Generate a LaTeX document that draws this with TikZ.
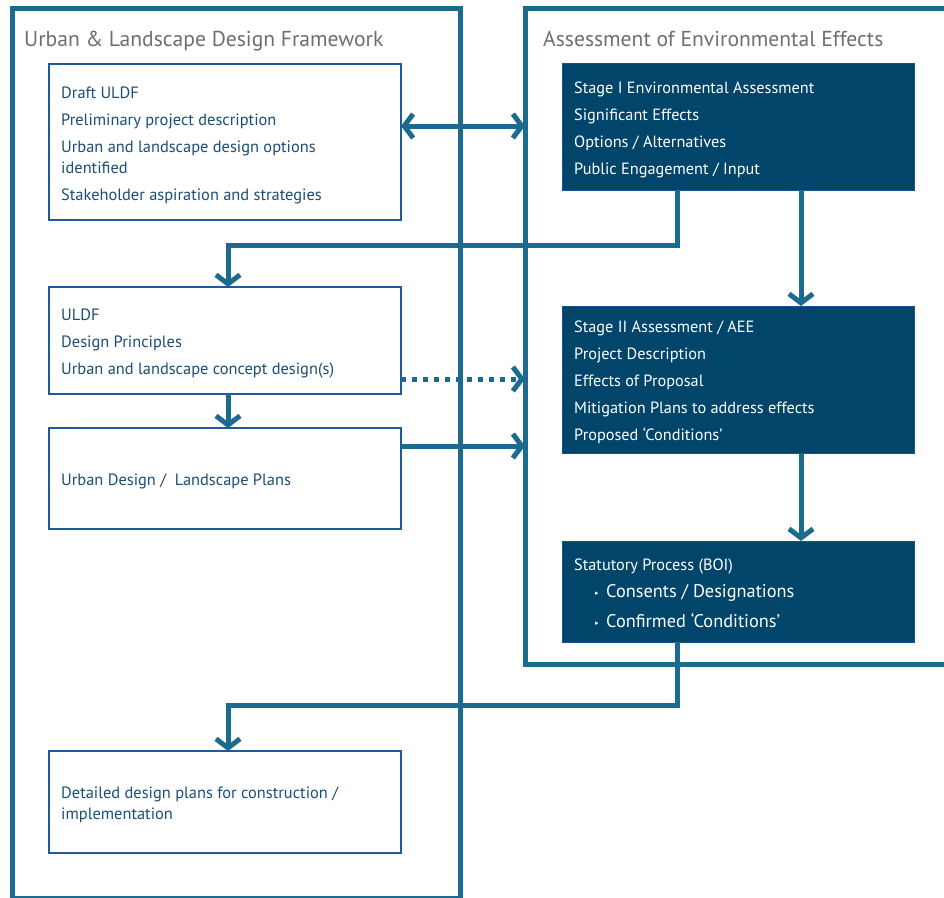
\documentclass[tikz,border=0pt]{standalone}
\usepackage{fontspec}
\setmainfont{PT Sans}
\newfontfamily\djv{DejaVu Sans}
\usetikzlibrary{arrows.meta,calc}
\definecolor{frameC}{RGB}{27,106,143}
\definecolor{darkC}{RGB}{1,69,107}
\definecolor{boxC}{RGB}{31,90,153}
\definecolor{txtC}{RGB}{27,78,120}
\definecolor{titleC}{RGB}{110,110,110}
\tikzset{
  frame/.style={draw=frameC,line width=5pt,rectangle,inner sep=0pt,outer sep=0pt},
  lbox/.style={draw=boxC,line width=1.3pt,fill=white,rectangle,minimum width=352pt,inner sep=0pt,outer sep=0pt},
  dbox/.style={draw=boxC!70!darkC,line width=1pt,fill=darkC,rectangle,minimum width=352pt,inner sep=0pt,outer sep=0pt},
  lt/.style={anchor=base west,inner sep=0pt,text=txtC,font=\fontsize{16.4}{18}\selectfont},
  dt/.style={anchor=base west,inner sep=0pt,text=white,font=\fontsize{16.3}{18}\selectfont},
  dtb/.style={anchor=base west,inner sep=0pt,text=white,font=\fontsize{18.3}{20}\selectfont},
  bul/.style={anchor=base west,inner sep=0pt,text=white,font=\djv\fontsize{7}{8}\selectfont},
  ttl/.style={anchor=base west,inner sep=0pt,text=titleC,font=\fontsize{21.6}{24}\selectfont},
  conn/.style={draw=frameC,line width=5pt,-{Straight Barb[length=9pt,width=24pt]}},
}
\begin{document}
\begin{tikzpicture}[x=1pt,y=-1pt]
\useasboundingbox (0,0) rectangle (944,897);
\clip (0,0) rectangle (944,897);
% boxes
\node[lbox,minimum height=156pt] (b1) at (225,142) {};
\node[lbox,minimum height=107pt] (b2) at (225,340.5) {};
\node[lbox,minimum height=101pt] (b3) at (225,478.5) {};
\node[lbox,minimum height=102pt] (b4) at (225,802) {};
\node[dbox,minimum height=127pt] (d1) at (738,126.5) {};
\node[dbox,minimum height=147pt] (d2) at (738,379.5) {};
\node[dbox,minimum height=101pt] (d3) at (738,591.5) {};
% frames
\node[frame,minimum width=448pt,minimum height=890pt] (fL) at (236,453) {};
\node[frame,minimum width=440pt,minimum height=656pt] (fR) at (745,336) {};
% titles
\node[ttl] (t1) at (24,46) {Urban \& Landscape Design Framework};
\node[ttl] (t2) at (543,46) {Assessment of Environmental Effects};
% box texts
\node[lt] (b1a) at (61,98) {Draft ULDF};
\node[lt] (b1b) at (61,125) {Preliminary project description};
\node[lt] (b1c) at (61,152) {Urban and landscape design options};
\node[lt] (b1d) at (61,173) {identified};
\node[lt] (b1e) at (61,200) {Stakeholder aspiration and strategies};
\node[lt] (b2a) at (61,320) {ULDF};
\node[lt] (b2b) at (61,347) {Design Principles};
\node[lt] (b2c) at (61,374) {Urban and landscape concept design(s)};
\node[lt] (b3a) at (61,485) {Urban Design /\ \ Landscape Plans};
\node[lt] (b4a) at (61,798) {Detailed design plans for construction /};
\node[lt] (b4b) at (61,819) {implementation};
\node[dt] (d1a) at (574,93) {Stage I Environmental Assessment};
\node[dt] (d1b) at (574,120) {Significant Effects};
\node[dt] (d1c) at (574,147) {Options / Alternatives};
\node[dt] (d1d) at (574,174) {Public Engagement / Input};
\node[dt] (d2a) at (574,332) {Stage II Assessment / AEE};
\node[dt] (d2b) at (574,359) {Project Description};
\node[dt] (d2c) at (574,386) {Effects of Proposal};
\node[dt] (d2d) at (574,413) {Mitigation Plans to address effects};
\node[dt] (d2e) at (574,440) {Proposed ‘Conditions’};
\node[dt] (d3a) at (574,570) {Statutory Process (BOI)};
\node[bul] (d3b1) at (595,595) {▸};
\node[dtb] (d3b) at (606,597) {Consents / Designations};
\node[bul] (d3c1) at (595,625) {▸};
\node[dtb] (d3c) at (606,627) {Confirmed ‘Conditions’};
% coordinates
\coordinate (xA) at (677,0);
\coordinate (xB) at (801,0);
\coordinate (xC) at (228,0);
\coordinate (e1) at (677,245);
\coordinate (e2) at (228,245);
\coordinate (e3) at (677,705);
\coordinate (e4) at (228,705);
\coordinate (yA) at (0,126);
\coordinate (yB) at (0,379);
\coordinate (yC) at (0,446);
% connectors
\draw[conn,{Straight Barb[length=9pt,width=24pt]}-{Straight Barb[length=9pt,width=24pt]}] (b1.east |- yA) -- (fR.west |- yA);
\draw[conn] (d1.south -| xA) -- (e1) -- (e2) -- (b2.north -| xC);
\draw[conn] (d1.south -| xB) -- (d2.north -| xB);
\draw[conn,dash pattern=on 5pt off 6pt] (b2.east |- yB) -- (fR.west |- yB);
\draw[conn] (b3.east |- yC) -- (fR.west |- yC);
\draw[conn] (b2.south -| xC) -- (b3.north -| xC);
\draw[conn] (d2.south -| xB) -- (d3.north -| xB);
\draw[conn] (d3.south -| xA) -- (e3) -- (e4) -- (b4.north -| xC);
\end{tikzpicture}
\end{document}
